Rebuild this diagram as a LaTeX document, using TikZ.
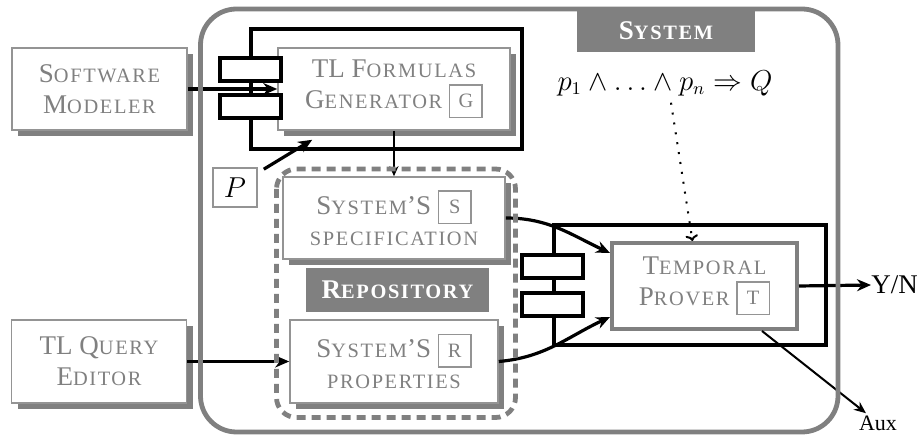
\documentclass[tikz,border=0pt]{standalone}
\usepackage{amssymb,amsmath}
\usepackage{fontspec}
\setmainfont{Liberation Serif}
\newfontfamily\scfont[LetterSpace=8]{Liberation Serif}
\usetikzlibrary{positioning,shadows,arrows.meta}
\definecolor{sysgray}{gray}{0.5}
\definecolor{linegray}{gray}{0.58}
\newcommand{\bigfont}{\fontsize{13.5}{15.5}\selectfont}
\newcommand{\smc}[1]{{\scfont\fontsize{10.2}{11}\selectfont #1}}
\newcommand{\idbox}[1]{{\setlength{\fboxsep}{2pt}\setlength{\fboxrule}{0.7pt}\fcolorbox{linegray}{white}{\parbox[c][11.5pt][c]{11.5pt}{\centering\smc{#1}}}}}

\begin{document}
\begin{tikzpicture}[x=0.5pt,y=-0.5pt,
  block/.style={draw=linegray, line width=0.8pt, fill=white, text=sysgray, align=center, inner sep=0pt,
    font=\bigfont, drop shadow={shadow xshift=3pt, shadow yshift=-3pt, fill=sysgray, opacity=1}},
  heading/.style={fill=sysgray, text=white, inner sep=0pt, font=\bigfont\bfseries},
  compframe/.style={draw, line width=2pt},
  port/.style={draw, line width=2pt, fill=white, minimum width=30.5pt, minimum height=11.5pt, inner sep=0pt},
  flow/.style={-{Stealth[length=7pt,width=6pt]}, line width=1.6pt}]
  \useasboundingbox (0,0) rectangle (917,437);
  \node[block, minimum width=87.5pt, minimum height=41pt] (modeler) at (99.5,89) {S\smc{OFTWARE}\\M\smc{ODELER}};
  \node[block, minimum width=87.5pt, minimum height=41.5pt] (editor) at (99,361.5) {TL Q\smc{UERY}\\E\smc{DITOR}};
  \draw[compframe] (251,29.5) rectangle (521.5,149.5);
  \node[block, minimum width=116pt, minimum height=41pt] (gen) at (394,89) {TL F\smc{ORMULAS}\\G\smc{ENERATOR} \idbox{G}};
  \node[port] (gin1) at (250.5,70) {};
  \node[port] (gin2) at (250.5,106.5) {};
  \node[block, minimum width=111pt, minimum height=41pt] (spec) at (394,218) {S\smc{YSTEM}’S \idbox{S}\\\smc{SPECIFICATION}};
  \node[block, minimum width=104pt, minimum height=41.5pt] (props) at (394,361.5) {S\smc{YSTEM}’S \idbox{R}\\\smc{PROPERTIES}};
  \node[draw=linegray, line width=0.8pt, minimum width=22pt, minimum height=19.5pt, inner sep=0pt, font=\bigfont] (p) at (235,187.5) {$P$};
  \draw[compframe] (554,225.5) rectangle (825.5,345.5);
  \node[draw=sysgray, line width=2pt, fill=white, text=sysgray, align=center, inner sep=0pt, font=\bigfont,
    minimum width=92.5pt, minimum height=43pt] (prover) at (704.5,286) {T\smc{EMPORAL}\\P\smc{ROVER} \idbox{T}};
  \node[port] (pin1) at (552.5,266.5) {};
  \node[port] (pin2) at (552.5,304.5) {};
  \node[font=\fontsize{13.5}{15}\selectfont] (formula) at (665,83) {$p_1 \wedge \ldots \wedge p_n \Rightarrow Q$};
  \node[inner sep=0pt, anchor=west, font=\bigfont] (yn) at (871,285) {Y/N};
  \node[inner sep=1pt, font=\fontsize{11}{13}\selectfont] (aux) at (878,423) {Aux};
  \draw[flow] (modeler.east) -- (gen.west);
  \draw[flow] (editor.east) -- (props.west);
  \draw[flow] ([xshift=3pt,yshift=-1pt]p.north east) -- ([xshift=17.5pt,yshift=-4.5pt]gen.south west);
  \draw[-{Stealth[length=5pt,width=4.5pt]}, line width=1pt] (gen.south) -- (spec.north);
  \draw[flow] (spec.east) to[out=0, in=155] ([yshift=16.5pt]prover.west);
  \draw[flow] (props.east) to[out=5, in=205] ([yshift=-15.5pt]prover.west);
  \draw[flow] (prover.east) -- (yn.west);
  \draw[-{Stealth[length=6pt,width=5pt]}, line width=1pt] ([xshift=28.75pt]prover.south) -- ([xshift=-6pt]aux.north);
  \draw[loosely dotted, line width=1pt, -{To[length=3pt]}] ([xshift=3pt]formula.south) -- ([xshift=-6pt]prover.north);
  \draw[sysgray, line width=2.4pt, dash pattern=on 4.5pt off 3pt, rounded corners=10pt] (276.5,169) rectangle (515.5,417.5);
  \draw[sysgray, line width=2.4pt, rounded corners=18pt] (200.5,9) rectangle (838,432);
  \node[heading, minimum width=89pt, minimum height=21pt] (syslabel) at (666,31) {S\smc{YSTEM}};
  \node[heading, minimum width=91.5pt, minimum height=22pt] (repolabel) at (397.5,290) {R\smc{EPOSITORY}};
\end{tikzpicture}
\end{document}
